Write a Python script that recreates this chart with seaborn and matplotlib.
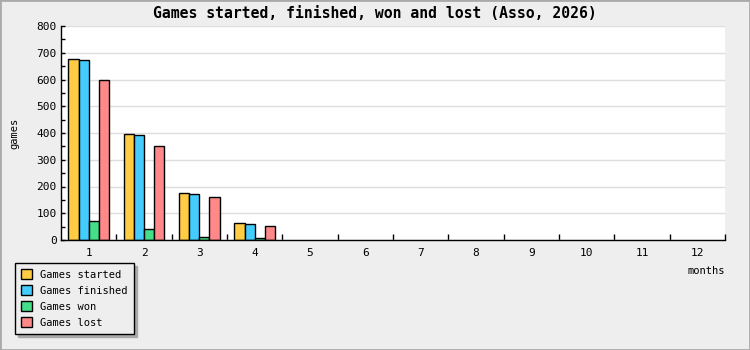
import matplotlib
matplotlib.use("Agg")
import matplotlib.pyplot as plt
import seaborn as sns
import pandas as pd
import numpy as np
from matplotlib.patches import Rectangle

months = [str(m) for m in range(1, 13)]
games_started = [675, 395, 175, 62, 0, 0, 0, 0, 0, 0, 0, 0]
games_finished = [672, 391, 171, 59, 0, 0, 0, 0, 0, 0, 0, 0]
games_won = [70, 40, 10, 6, 0, 0, 0, 0, 0, 0, 0, 0]
games_lost = [600, 350, 160, 51, 0, 0, 0, 0, 0, 0, 0, 0]
series_names = ["Games started", "Games finished", "Games won", "Games lost"]
colors = ["#FFCC44", "#44CCFF", "#44DD88", "#FF8888"]

rows = []
for name, vals in zip(series_names, [games_started, games_finished, games_won, games_lost]):
    for m, v in zip(months, vals):
        rows.append({"month": m, "games": v, "series": name})
df = pd.DataFrame(rows)

sns.set_style("white")
plt.rcParams['font.family'] = ['DejaVu Sans Mono']
plt.rcParams['text.color'] = 'black'
plt.rcParams['xtick.color'] = 'black'
plt.rcParams['ytick.color'] = 'black'
plt.rcParams['xtick.labelcolor'] = 'black'
plt.rcParams['ytick.labelcolor'] = 'black'

fig = plt.figure(figsize=(7.5, 3.5), dpi=100, facecolor="#EEEEEE")
ax = fig.add_axes([61/750, 110/350, 664/750, 214/350])
ax.set_facecolor("white")

sns.barplot(data=df, x="month", y="games", hue="series", hue_order=series_names,
            palette=colors, width=0.73, edgecolor="black", linewidth=1,
            ax=ax, legend=True, saturation=1)

# hide outlines of zero-height bars
for cont in ax.containers:
    for p in cont:
        if p.get_height() == 0:
            p.set_visible(False)

ax.set_xlim(-0.5, 11.5)
ax.set_ylim(0, 800)
ax.set_yticks(np.arange(0, 801, 100))
ax.set_yticks(np.arange(0, 801, 50), minor=True)
ax.yaxis.grid(True, which="major", color="#DDDDDD", linewidth=1)
ax.set_axisbelow(True)
ax.set_xticks(np.arange(12))
ax.set_xticklabels(months)
ax.set_xticks(np.arange(0.5, 11.6, 1), minor=True)
ax.tick_params(axis="x", which="major", bottom=True, length=0, labelsize=8, pad=6, labelcolor="black")
ax.tick_params(axis="x", which="minor", bottom=True, direction="in", length=4, width=1, color="black")
ax.tick_params(axis="y", which="both", left=True, direction="in", length=3, width=1, color="black", labelsize=8, pad=3, labelcolor="black")
for s in ["top", "right"]:
    ax.spines[s].set_visible(False)
for s in ["left", "bottom"]:
    ax.spines[s].set_color("black")
    ax.spines[s].set_linewidth(1)

ax.set_xlabel("")
ax.set_ylabel("")
fig.text(14/750, 1 - 133/350, "games", rotation=90, ha="center", va="center", fontsize=7.5, color="black")
fig.text(706/750, 1 - 271/350, "months", ha="center", va="center", fontsize=7.5, color="black")
fig.text(0.5, 1 - 13/350, "Games started, finished, won and lost (Asso, 2026)",
         ha="center", va="center", fontsize=10.6, fontweight="bold", color="black")

leg = ax.legend(loc="upper left", bbox_to_anchor=(15/750, 1 - 263/350),
                bbox_transform=fig.transFigure, frameon=True, fancybox=False,
                shadow={"color": "#AAAAAA", "alpha": 1}, fontsize=7.5,
                handlelength=1.05, handleheight=1.05, handletextpad=0.75,
                labelspacing=0.54, borderpad=0.6, borderaxespad=0)
leg.get_frame().set_facecolor("#EEEEEE")
leg.get_frame().set_edgecolor("black")
leg.get_frame().set_linewidth(1)
leg.get_frame().set_alpha(1)
for t in leg.get_texts():
    t.set_color("black")

fig.patches.append(Rectangle((0, 0), 1, 1, transform=fig.transFigure, fill=False,
                             edgecolor="#AAAAAA", linewidth=2, figure=fig))

fig.savefig("out.png", dpi=100, facecolor="#EEEEEE")
